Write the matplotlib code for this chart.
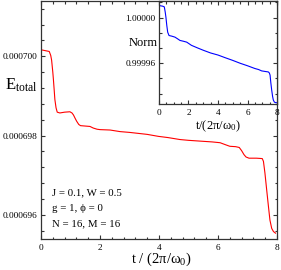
import numpy as np
import matplotlib
matplotlib.use("Agg")
import matplotlib.pyplot as plt
from matplotlib.ticker import MultipleLocator, FixedLocator, FormatStrFormatter

plt.rcParams["font.family"] = ["Liberation Serif", "DejaVu Serif"]
plt.rcParams["mathtext.fontset"] = "custom"
plt.rcParams["mathtext.rm"] = "Liberation Serif"
plt.rcParams["mathtext.it"] = "Liberation Serif:italic"

# main panel: total energy vs time (E in units of 1e-6)
t_main = [0.02, 0.15, 0.28, 0.33, 0.36, 0.40, 0.42, 0.45, 0.47, 0.51, 0.55,
          0.64, 0.80, 0.98, 1.05, 1.10, 1.16, 1.21, 1.28, 1.34, 1.50, 1.66,
          1.77, 1.90, 2.00, 2.34, 2.68, 3.00, 3.24, 3.60, 3.98, 4.30, 4.71,
          5.00, 5.40, 5.80, 6.07, 6.25, 6.40, 6.60, 6.72, 6.80, 6.88, 6.95,
          7.05, 7.30, 7.50, 7.54, 7.59, 7.65, 7.71, 7.76, 7.82, 7.88, 7.95]
e_main = [700.16, 700.14, 700.12, 700.02, 699.90, 699.60, 699.42, 699.12,
          698.91, 698.70, 698.59, 698.57, 698.59, 698.60, 698.57, 698.52,
          698.43, 698.36, 698.28, 698.25, 698.24, 698.23, 698.19, 698.16,
          698.15, 698.14, 698.10, 698.08, 698.06, 698.03, 697.98, 697.95,
          697.90, 697.88, 697.86, 697.84, 697.82, 697.77, 697.73, 697.72,
          697.70, 697.62, 697.52, 697.46, 697.43, 697.43, 697.42, 697.35,
          697.06, 696.63, 696.21, 695.87, 695.66, 695.58, 695.54]

# inset: norm vs time
t_norm = [0.07, 0.25, 0.36, 0.42, 0.47, 0.53, 0.59, 0.68, 0.85, 1.08, 1.25,
          1.42, 1.65, 1.88, 2.20, 2.60, 3.00, 3.50, 4.00, 4.50, 5.00, 5.50,
          6.00, 6.50, 6.75, 6.96, 7.20, 7.41, 7.48, 7.53, 7.58, 7.64, 7.70,
          7.75, 7.82, 7.90, 8.00]
norm = [1.0000104, 1.0000100, 1.0000094, 1.0000050, 1.0000003, 0.9999930,
        0.9999872, 0.9999843, 0.9999838, 0.9999829, 0.9999815, 0.9999800,
        0.9999793, 0.9999785, 0.9999757, 0.9999735, 0.9999714, 0.9999690,
        0.9999672, 0.9999648, 0.9999625, 0.9999600, 0.9999578, 0.9999554,
        0.9999545, 0.9999533, 0.9999528, 0.9999524, 0.9999515, 0.9999496,
        0.9999430, 0.9999365, 0.9999310, 0.9999278, 0.9999260, 0.9999255,
        0.9999254]

params = ["J = 0.1, W = 0.5", "g = 1, \u03d5 = 0", "N = 16, M = 16"]

fig = plt.figure(figsize=(2.81, 2.70), dpi=100)

ax = fig.add_axes([0.1459, 0.1159, 0.8399, 0.8815])
ax.plot(t_main, np.array(e_main) * 1e-6, color="#ff0000", lw=0.8)
ax.set_xlim(0, 8)
ax.set_ylim(695.4e-6, 701.4e-6)
ax.xaxis.set_major_locator(MultipleLocator(2))
ax.xaxis.set_minor_locator(MultipleLocator(0.4))
ax.yaxis.set_major_locator(FixedLocator([696e-6, 698e-6, 700e-6]))
ax.yaxis.set_minor_locator(MultipleLocator(0.4e-6))
ax.yaxis.set_major_formatter(FormatStrFormatter("%.6f"))
ax.set_xlabel("t / (2\u03c0/\u03c9$_0$)", fontsize=10.5, va="center")
ax.xaxis.set_label_coords(0.51, -0.087)
ax.set_ylabel("E$_{\\rm total}$", fontsize=12, rotation=0, va="center", ha="center")
ax.yaxis.set_label_coords(-0.085, 0.645)
for i, s in enumerate(params):
    ax.text(0.048, 0.195 - i * 0.067, s, transform=ax.transAxes,
            fontsize=7.8, va="center", ha="left")

ax2 = fig.add_axes([0.5658, 0.6148, 0.42, 0.3826])
ax2.plot(t_norm, norm, color="#0000ff", lw=0.8)
ax2.set_xlim(0, 8)
ax2.set_ylim(0.9999243, 1.0000148)
ax2.xaxis.set_major_locator(MultipleLocator(2))
ax2.xaxis.set_minor_locator(MultipleLocator(0.5))
ax2.yaxis.set_major_locator(FixedLocator([0.99996, 1.0]))
ax2.yaxis.set_minor_locator(MultipleLocator(0.00004 / 3))
ax2.yaxis.set_major_formatter(FormatStrFormatter("%.5f"))
ax2.set_xlabel("t/(2\u03c0/\u03c9$_0$)", fontsize=9, va="center")
ax2.xaxis.set_label_coords(0.5, -0.22)
ax2.set_ylabel("Norm", fontsize=9, rotation=0, va="center", ha="center")
ax2.yaxis.set_label_coords(-0.135, 0.59)

for a in (ax, ax2):
    a.tick_params(which="both", direction="in", top=True, right=True,
                  labelsize=6.7, width=0.8, color="#333333")
    a.tick_params(axis="y", pad=2.5)
    a.tick_params(axis="x", pad=3.5)
    a.tick_params(which="major", length=3)
    a.tick_params(which="minor", length=1.8)
    for sp in a.spines.values():
        sp.set_linewidth(0.9)
        sp.set_color("#333333")

fig.savefig("out.png", dpi=100)
